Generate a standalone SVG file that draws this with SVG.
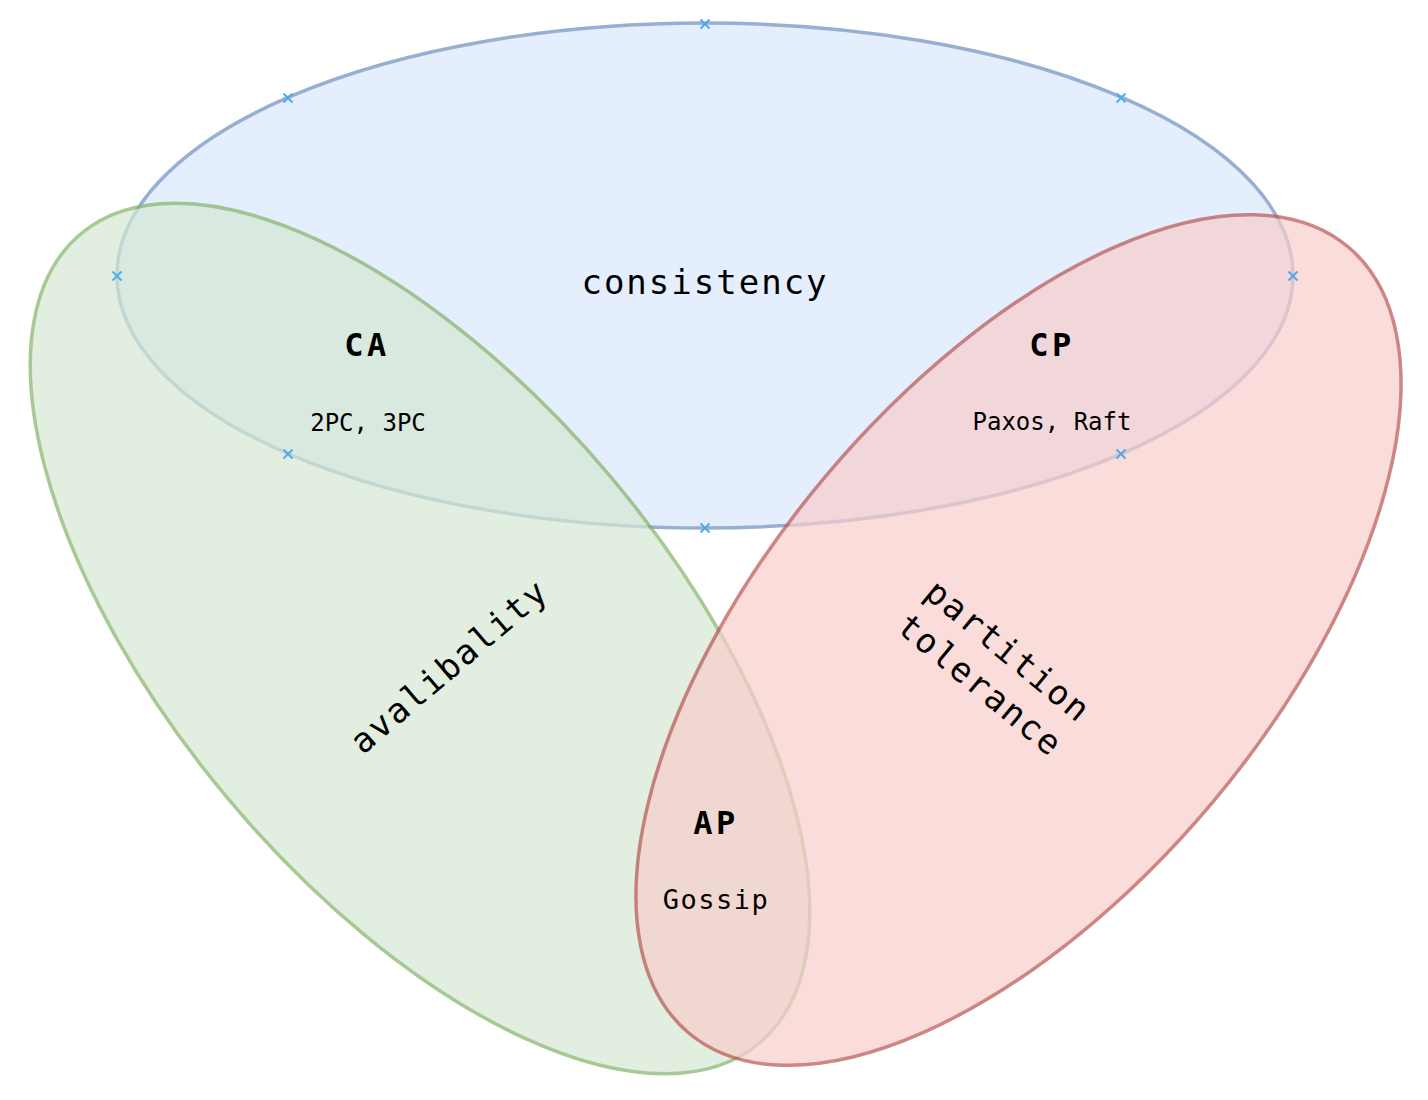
<svg xmlns="http://www.w3.org/2000/svg" width="1428" height="1100" viewBox="0 0 1428 1100">
<defs>
<style>
.shape{opacity:0.7;stroke-width:3.5}
.t{font-family:"DejaVu Sans Mono","Liberation Mono",monospace;fill:#000;text-anchor:middle}
.big{font-size:34px;letter-spacing:2px}
.lbl{font-size:32px;font-weight:bold;letter-spacing:3.5px}
.sm{font-size:24px}
.mk{stroke:#4ea9ec;stroke-width:1.8;fill:none}
</style>
<path id="x" d="M-4.5,-4.5L4.5,4.5M-4.5,4.5L4.5,-4.5"/>
</defs>
<rect width="1428" height="1100" fill="#fff"/>
<g id="consistency">
<ellipse class="shape" cx="705" cy="275.5" rx="588" ry="252.5" fill="#dae8fc" stroke="#6c8ebf"/>
</g>
<g id="availability">
<ellipse class="shape" cx="420" cy="638.5" rx="528" ry="250" fill="#d5e8d4" stroke="#82b366" transform="rotate(50 420 638.5)"/>
</g>
<g id="partition">
<ellipse class="shape" cx="1018.5" cy="640" rx="513" ry="253" fill="#f8cecc" stroke="#b85450" transform="rotate(-50 1018.5 640)"/>
</g>
<g id="markers">
<use href="#x" class="mk" x="705" y="24"/>
<use href="#x" class="mk" x="288" y="98"/>
<use href="#x" class="mk" x="1121" y="98"/>
<use href="#x" class="mk" x="117" y="276"/>
<use href="#x" class="mk" x="1293" y="276"/>
<use href="#x" class="mk" x="288" y="454"/>
<use href="#x" class="mk" x="1121" y="454"/>
<use href="#x" class="mk" x="705" y="528"/>
</g>
<g id="labels">
<text class="t big" x="705" y="294">consistency</text>
<text class="t big" transform="translate(449 666) rotate(-40.5)" y="12">avalibality</text>
<text class="t big" transform="translate(995 667) rotate(39.5)"><tspan x="0" y="-9">partition</tspan><tspan x="0" y="35">tolerance</tspan></text>
<text class="t lbl" x="367" y="356">CA</text>
<text class="t sm" x="368" y="431">2PC, 3PC</text>
<text class="t lbl" x="1052" y="356">CP</text>
<text class="t sm" x="1052" y="430">Paxos, Raft</text>
<text class="t lbl" x="716" y="834">AP</text>
<text class="t sm" x="716" y="909" style="font-size:27px;letter-spacing:1.5px">Gossip</text>
</g>
</svg>
